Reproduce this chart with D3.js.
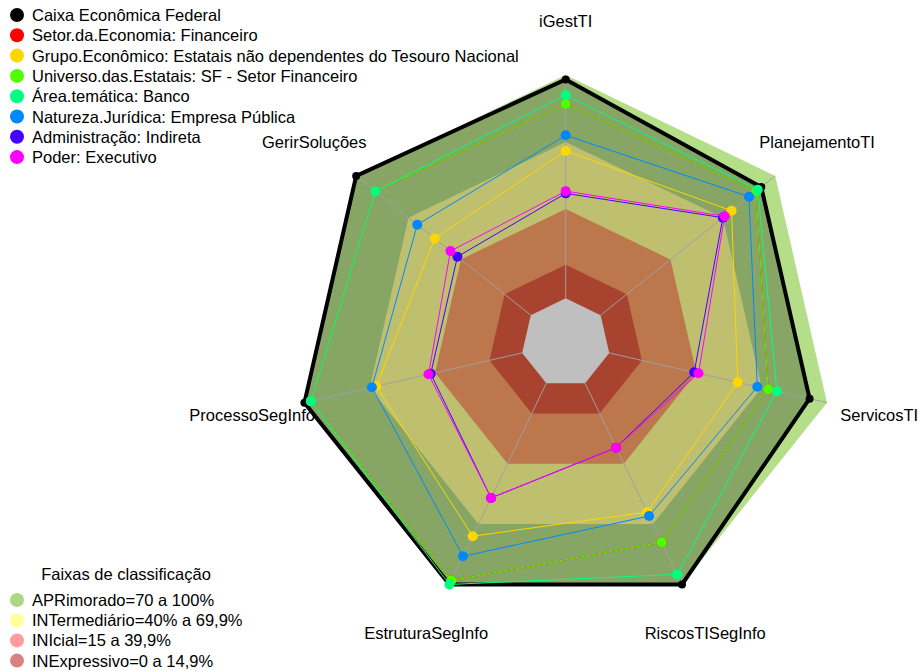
<!DOCTYPE html>
<html>
<head>
<meta charset="utf-8">
<script src="https://cdn.jsdelivr.net/npm/d3@7"></script>
<style>
  body { margin: 0; background: #fff; }
  svg { display: block; font-family: "Liberation Sans", Arial, sans-serif; }
</style>
</head>
<body>
<svg id="chart"></svg>
<script>
// eixos, em sentido horario a partir do topo
const axes = ["iGestTI", "PlanejamentoTI", "ServicosTI", "RiscosTISegInfo", "EstruturaSegInfo", "ProcessoSegInfo", "GerirSoluções"];

const seriesNames = [
  "Caixa Econômica Federal",
  "Setor.da.Economia: Financeiro",
  "Grupo.Econômico: Estatais não dependentes do Tesouro Nacional",
  "Universo.das.Estatais: SF - Setor Financeiro",
  "Área.temática: Banco",
  "Natureza.Jurídica: Empresa Pública",
  "Administração: Indireta",
  "Poder: Executivo"
];
const seriesColors = ["#000000", "#FF0000", "#FFD700", "#4DFF00", "#00FF80", "#0088FF", "#4400FF", "#FF00FF"];

const caixa     = [98, 92, 92, 100, 100, 100, 100];
const setor     = [87, 89, 73, 79, 98, 97, 89];
const grupo     = [66, 75, 59, 64, 76, 67, 55];
const universo  = [87, 89, 73, 79, 98, 97, 89];
const area      = [91, 90, 77, 95, 100, 97, 89];
const natureza  = [73, 85, 68, 66, 86, 69, 65];
const adminInd  = [47, 70, 39, 32, 57, 42, 42];
const poder     = [48, 71, 41, 32, 57, 43, 46];
const seriesValues = [caixa, setor, grupo, universo, area, natureza, adminInd, poder];

// faixas de classificacao
const bandNames = ["APRimorado=70 a 100%", "INTermediário=40% a 69,9%", "INIcial=15 a 39,9%", "INExpressivo=0 a 14,9%"];
const bandLimits = [100, 70, 40, 15, 0];
const bandFills = ["#b5de88", "#ffff96", "#fd9f67", "#e05a40", "#ffffff"];
const bandLegendColors = ["#acd886", "#ffff9c", "#ff9d9d", "#d88282"];

const width = 918, height = 671;
const cx = 565.7, cy = 343, R = 268;
const fs = 16.5;

const svg = d3.select("#chart").attr("width", width).attr("height", height);

const r = d3.scaleLinear().domain([0, 100]).range([R / 6, R]);
const angle = d3.scaleLinear().domain([0, axes.length]).range([0, 2 * Math.PI]);

const pt = (v, i) => [cx + r(v) * Math.sin(angle(i)), cy - r(v) * Math.cos(angle(i))];
const ring = v => axes.map((a, i) => pt(v, i));
const line = d3.line().curve(d3.curveLinearClosed);

const g = svg.append("g");

// faixas
g.selectAll(".band")
  .data(bandLimits)
  .enter()
  .append("path")
  .attr("class", "band")
  .attr("d", v => line(ring(v)))
  .attr("fill", (v, i) => bandFills[i]);

// preenchimento da Caixa escurece o interior
g.append("path")
  .attr("d", line(caixa.map((v, i) => pt(v, i))))
  .attr("fill", "rgba(0,0,0,0.25)");

// linhas dos eixos
g.selectAll(".axis")
  .data(axes)
  .enter()
  .append("line")
  .attr("x1", (d, i) => pt(0, i)[0])
  .attr("y1", (d, i) => pt(0, i)[1])
  .attr("x2", (d, i) => pt(100, i)[0])
  .attr("y2", (d, i) => pt(100, i)[1])
  .attr("stroke", "#a0a0a0")
  .attr("stroke-width", 1);

// rotulos dos eixos
g.selectAll(".vlabel")
  .data(axes)
  .enter()
  .append("text")
  .attr("x", (d, i) => cx + 1.2 * R * Math.sin(angle(i)))
  .attr("y", (d, i) => cy - 1.2 * R * Math.cos(angle(i)))
  .attr("text-anchor", "middle")
  .attr("dominant-baseline", "central")
  .attr("font-size", fs)
  .attr("fill", "#000")
  .text(d => d);

// series
seriesValues.forEach((vals, s) => {
  const pts = vals.map((v, i) => pt(v, i));
  g.append("path")
    .attr("d", line(pts))
    .attr("fill", "none")
    .attr("stroke", seriesColors[s])
    .attr("stroke-width", s === 0 ? 4 : 1);
  g.selectAll(".p" + s)
    .data(pts)
    .enter()
    .append("circle")
    .attr("cx", d => d[0])
    .attr("cy", d => d[1])
    .attr("r", s === 0 ? 4 : 5)
    .attr("fill", seriesColors[s]);
});

// legenda das series
const leg = svg.append("g");
seriesNames.forEach((name, i) => {
  const y = 15 + i * 20.3;
  leg.append("circle").attr("cx", 17).attr("cy", y).attr("r", 7).attr("fill", seriesColors[i]);
  leg.append("text").attr("x", 32).attr("y", y).attr("dominant-baseline", "central")
    .attr("font-size", fs).text(name);
});

// legenda das faixas
const leg2 = svg.append("g");
leg2.append("text").attr("x", 126).attr("y", 574).attr("text-anchor", "middle")
  .attr("dominant-baseline", "central").attr("font-size", fs).text("Faixas de classificação");
bandNames.forEach((name, i) => {
  const y = 600 + i * 20.2;
  leg2.append("circle").attr("cx", 17).attr("cy", y).attr("r", 7).attr("fill", bandLegendColors[i]);
  leg2.append("text").attr("x", 32).attr("y", y).attr("dominant-baseline", "central")
    .attr("font-size", fs).text(name);
});
</script>
</body>
</html>
